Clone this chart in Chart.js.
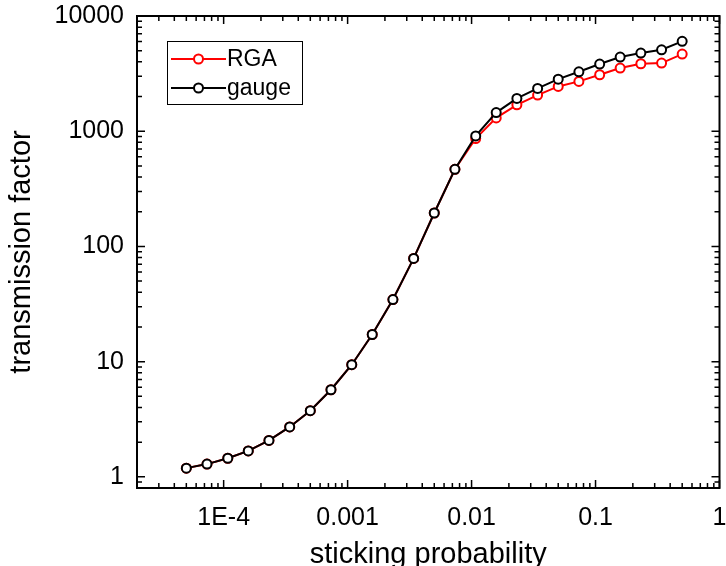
<!DOCTYPE html>
<html><head><meta charset="utf-8">
<script src="https://cdn.jsdelivr.net/npm/chart.js@4/dist/chart.umd.min.js"></script>
<style>html,body{margin:0;padding:0;background:#fff;}canvas{display:block;}</style>
</head><body>
<canvas id="c" width="726" height="566"></canvas>
<script>
const stickingProbability = [5e-5, 7.34e-5, 1.08e-4, 1.58e-4, 2.32e-4, 3.41e-4, 5e-4, 7.34e-4, 1.08e-3, 1.58e-3, 2.32e-3, 3.41e-3, 5e-3, 7.34e-3, 1.08e-2, 1.58e-2, 2.32e-2, 3.41e-2, 0.05, 0.0734, 0.108, 0.158, 0.232, 0.341, 0.5];
const rgaTransmission = [1.19, 1.29, 1.45, 1.68, 2.07, 2.71, 3.75, 5.7, 9.4, 17.2, 34.6, 78.7, 195, 467, 864, 1305, 1694, 2057, 2448, 2706, 3090, 3532, 3850, 3900, 4674];
const gaugeTransmission = [1.19, 1.29, 1.45, 1.68, 2.07, 2.71, 3.75, 5.7, 9.4, 17.2, 34.6, 78.7, 195, 467, 910, 1450, 1925, 2350, 2830, 3280, 3830, 4400, 4770, 5090, 6030];
const seriesNames = ['RGA', 'gauge'];
const xTickValues = [1e-4, 1e-3, 1e-2, 1e-1, 1];
const xTickLabels = ['1E-4', '0.001', '0.01', '0.1', '1'];
const yTickValues = [1, 10, 100, 1000, 10000];
const yTickLabels = ['1', '10', '100', '1000', '10000'];
const xTitle = 'sticking probability';
const yTitle = 'transmission factor';

const FONT = 'Arial, "Liberation Sans", sans-serif';
const toPoints = (ys) => stickingProbability.map((x, i) => ({x, y: ys[i]}));

function minorValues(min, max) {
  const out = [];
  for (let e = Math.floor(Math.log10(min)); e <= Math.ceil(Math.log10(max)); e++) {
    for (let m = 2; m <= 9; m++) {
      const v = m * Math.pow(10, e);
      if (v > min * 1.0001 && v < max * 0.9999) out.push(v);
    }
  }
  return out;
}

const framePlugin = {
  id: 'frame',
  afterDatasetsDraw(chart) {
    const {ctx, chartArea: a, scales: {x, y}} = chart;
    ctx.save();
    ctx.strokeStyle = '#000';
    ctx.lineWidth = 1.5;
    ctx.beginPath();
    const MAJ = 8, MIN = 5;
    xTickValues.forEach(v => { const px = x.getPixelForValue(v); ctx.moveTo(px, a.bottom); ctx.lineTo(px, a.bottom - MAJ); ctx.moveTo(px, a.top); ctx.lineTo(px, a.top + MAJ); });
    minorValues(x.min, x.max).forEach(v => { const px = x.getPixelForValue(v); ctx.moveTo(px, a.bottom); ctx.lineTo(px, a.bottom - MIN); ctx.moveTo(px, a.top); ctx.lineTo(px, a.top + MIN); });
    yTickValues.forEach(v => { const py = y.getPixelForValue(v); ctx.moveTo(a.left, py); ctx.lineTo(a.left + MAJ, py); ctx.moveTo(a.right, py); ctx.lineTo(a.right - MAJ, py); });
    minorValues(y.min, y.max).forEach(v => { const py = y.getPixelForValue(v); ctx.moveTo(a.left, py); ctx.lineTo(a.left + MIN, py); ctx.moveTo(a.right, py); ctx.lineTo(a.right - MIN, py); });
    ctx.stroke();
    ctx.lineWidth = 2;
    ctx.strokeRect(a.left, a.top, a.right - a.left, a.bottom - a.top);
    ctx.restore();
  }
};

const legendPlugin = {
  id: 'boxLegend',
  afterDraw(chart) {
    const {ctx} = chart;
    const bx = 167.5, by = 41.5, bw = 135, bh = 63;
    ctx.save();
    ctx.fillStyle = '#fff';
    ctx.fillRect(bx, by, bw, bh);
    ctx.strokeStyle = '#000';
    ctx.lineWidth = 1;
    ctx.strokeRect(bx, by, bw, bh);
    chart.data.datasets.slice().sort((p, q) => p.legendIndex - q.legendIndex).forEach((ds, i) => {
      const cy = 59 + i * 29;
      ctx.strokeStyle = ds.borderColor;
      ctx.lineWidth = 2;
      ctx.beginPath(); ctx.moveTo(171, cy); ctx.lineTo(226, cy); ctx.stroke();
      ctx.beginPath(); ctx.arc(198.5, cy, 4.5, 0, Math.PI * 2);
      ctx.fillStyle = '#fff'; ctx.fill(); ctx.stroke();
      ctx.fillStyle = '#000';
      ctx.font = '23px ' + FONT;
      ctx.textBaseline = 'middle';
      ctx.textAlign = 'left';
      ctx.fillText(ds.label, 227, cy + 1);
    });
    ctx.restore();
  }
};

const lineStyle = (color) => ({
  borderColor: color, borderWidth: 2, pointRadius: 4.5, pointHoverRadius: 4.5,
  pointBackgroundColor: '#fff', pointBorderColor: color, pointBorderWidth: 2, tension: 0, fill: false
});

new Chart(document.getElementById('c'), {
  type: 'line',
  data: {
    datasets: [
      Object.assign({label: seriesNames[0], data: toPoints(rgaTransmission), order: 1, legendIndex: 0}, lineStyle('#ff0000')),
      Object.assign({label: seriesNames[1], data: toPoints(gaugeTransmission), order: 0, legendIndex: 1}, lineStyle('#000000'))
    ]
  },
  options: {
    responsive: false, animation: false, devicePixelRatio: 1,
    layout: {padding: {top: 16, left: 0, right: 0, bottom: 0}},
    plugins: {legend: {display: false}, tooltip: {enabled: false}},
    scales: {
      x: {
        type: 'logarithmic', min: 2e-5, max: 1,
        afterBuildTicks: (s) => { s.ticks = xTickValues.map(v => ({value: v})); },
        afterFit: (s) => { s.height = 78; s.paddingRight = 5; s.paddingLeft = 0; },
        ticks: {autoSkip: false, maxRotation: 0, padding: 15, color: '#000',
          font: {family: FONT, size: 25},
          callback: (v) => { const i = xTickValues.findIndex(t => Math.abs(t - v) / t < 1e-6); return i >= 0 ? xTickLabels[i] : ''; }},
        grid: {display: false, drawTicks: false},
        border: {display: false},
        title: {display: true, text: xTitle, color: '#000', font: {family: FONT, size: 29, lineHeight: 1.0}, padding: {top: 0, bottom: -3}}
      },
      y: {
        type: 'logarithmic', min: 0.8, max: 10000,
        afterBuildTicks: (s) => { s.ticks = yTickValues.map(v => ({value: v})); },
        afterFit: (s) => { s.width = 137; s.paddingTop = 0; s.paddingBottom = 0; },
        ticks: {autoSkip: false, padding: 13, color: '#000',
          font: {family: FONT, size: 25},
          callback: (v) => { const i = yTickValues.findIndex(t => Math.abs(t - v) / t < 1e-6); return i >= 0 ? yTickLabels[i] : ''; }},
        grid: {display: false, drawTicks: false},
        border: {display: false},
        title: {display: true, text: yTitle, color: '#000', font: {family: FONT, size: 29, lineHeight: 1.2}, padding: {top: 5, bottom: 0}}
      }
    }
  },
  plugins: [framePlugin, legendPlugin]
});
</script>
</body></html>
